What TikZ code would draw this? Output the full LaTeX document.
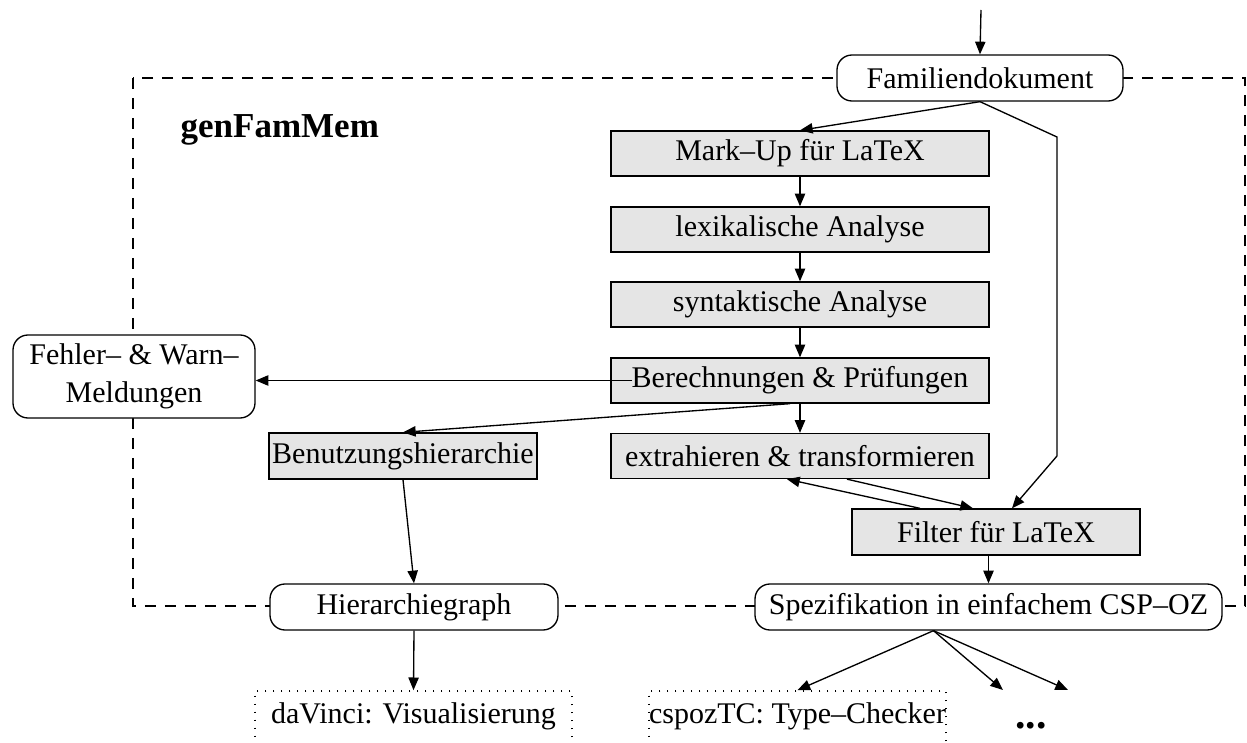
\documentclass[tikz,border=0pt]{standalone}
\usepackage{fontspec}
\setmainfont{Liberation Serif}
\usetikzlibrary{arrows.meta,calc}

\begin{document}
\begin{tikzpicture}[x=0.3pt,y=-0.3pt,font=\fontsize{9}{11.5}\selectfont,
    proc/.style={draw,fill=gray!20,minimum width=113.4pt,minimum height=13.5pt,inner sep=0pt},
    term/.style={draw,fill=white,rounded corners=4.5pt,minimum height=13.8pt,inner sep=0pt},
    tool/.style={draw,line width=0.5pt,dash pattern=on 0.5pt off 1.9pt,inner xsep=0pt,inner ysep=3pt,text height=6.6pt,text depth=7pt,anchor=base},
    arr/.style={draw,line width=0.4pt,-{Triangle[length=3.8pt,width=3.1pt]}},
    frame/.style={draw,line width=0.4pt,dash pattern=on 3.3pt off 2.7pt}]
    \useasboundingbox (0,0) rectangle (1247,743);

    \draw[frame] (133,78) rectangle (1245,606);
    \node[font=\fontsize{10.5}{13}\selectfont\bfseries,anchor=base west,inner sep=0pt] (title) at (180,138) {genFamMem};

    \node[term,minimum width=85.8pt] (famdok) at (980,78) {Familiendokument};
    \node[proc] (markup) at (800,153.5) {Mark–Up für LaTeX};
    \node[proc] (lex) at (800,229.5) {lexikalische Analyse};
    \node[proc] (syn) at (800,304.5) {syntaktische Analyse};
    \node[proc] (berech) at (800,380.5) {Berechnungen \& Prüfungen};
    \node[proc] (extra) at (800,456) {extrahieren \& transformieren};
    \node[proc,minimum width=80.4pt,minimum height=13.8pt] (benutz) at (403,456) {Benutzungshierarchie};
    \node[proc,minimum width=86.4pt,minimum height=13.8pt] (filter) at (996,532) {Filter für LaTeX};
    \node[term,minimum width=72.6pt,minimum height=24.9pt,align=center] (fehler) at (134,376.5) {Fehler– \& Warn–\\Meldungen};
    \node[term,minimum width=86.4pt] (hgraph) at (414,607) {Hierarchiegraph};
    \node[term,minimum width=140.1pt] (spez) at (988.5,607) {Spezifikation in einfachem CSP–OZ};
    \node[tool,minimum width=95.1pt] (davinci) at (413.5,723) {daVinci: Visualisierung};
    \node[tool,minimum width=86.7pt] (cspoz) at (797.5,723) {cspozTC: Type–Checker};
    \node[font=\fontsize{12.5}{14}\selectfont\bfseries,anchor=base] (more) at (1031,728) {...};

    \coordinate (input) at (981,10);
    \coordinate (bendA) at (1057,137);
    \coordinate (bendB) at (1057,456);
    \coordinate (spezout) at ($(spez.south)+(-55,0)$);
    \coordinate (moreA) at (1003,690);
    \coordinate (moreB) at (1068,690);

    \draw[arr] (input) -- (famdok.north);
    \draw[arr] (famdok.south) -- (markup.north);
    \draw[arr] (famdok.south) -- (bendA) -- (bendB) -- ($(filter.north)+(16,0)$);
    \draw[arr] (markup) -- (lex);
    \draw[arr] (lex) -- (syn);
    \draw[arr] (syn) -- (berech);
    \draw[arr] (berech) -- (extra);
    \draw[arr] ($(berech.west)+(22,0)$) -- (fehler.east |- berech.west);
    \draw[arr] ($(berech.south)+(-10,0)$) -- (benutz.north);
    \draw[arr] ($(extra.south)+(47,0)$) -- ($(filter.north)+(-23,0)$);
    \draw[arr] ($(filter.north)+(-76,0)$) -- ($(extra.south)+(-13,0)$);
    \draw[arr] (spez.north |- filter.south) -- (spez.north);
    \draw[arr] (benutz.south) -- (hgraph.north);
    \draw[arr] (hgraph.south) -- (davinci.north);
    \draw[arr] (spezout) -- (cspoz.north);
    \draw[arr] (spezout) -- (moreA);
    \draw[arr] (spezout) -- (moreB);
  \end{tikzpicture}
\end{document}
